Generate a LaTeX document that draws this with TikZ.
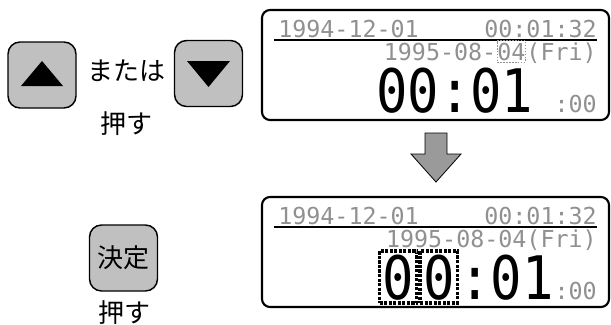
\documentclass[tikz,border=0pt]{standalone}
\usepackage{fontspec}
\usetikzlibrary{positioning,calc}
\newfontfamily\jpfont{Noto Sans CJK JP}
\newfontfamily\lcdfont{DejaVu Sans Mono}
\newfontfamily\lcdbig[FakeStretch=0.87]{DejaVu Sans Mono}
\definecolor{KeyGray}{HTML}{C0C0C0}
\definecolor{ArrowGray}{HTML}{9A9A9A}
\definecolor{LcdDim}{HTML}{909090}

\begin{document}
\begin{tikzpicture}[x=0.75pt, y=-0.75pt,
  btn/.style={draw=black, line width=1.1pt, fill=KeyGray, rounded corners=9pt,
    minimum width=51pt, minimum height=49.5pt, inner sep=0pt},
  jp/.style={font=\jpfont\fontsize{19.5}{21}\selectfont, inner sep=0pt},
  lcdframe/.style={draw=black, line width=1.6pt, rounded corners=6pt},
  dim/.style={font=\lcdfont\fontsize{17.5}{18}\selectfont, text=LcdDim, inner sep=0pt},
  big/.style={font=\lcdbig\fontsize{45}{45}\selectfont, inner sep=0pt},
  cursor/.style={draw=black, line width=2.4pt, densely dotted, inner xsep=2.2pt,
    text height=34pt, text depth=1pt, inner ysep=2pt}]
  \useasboundingbox (0,0) rectangle (611,325);

  % keys
  \node[btn] (upkey) at (42,75) {};
  \fill ($(upkey.center)+(0,-14)$) -- ($(upkey.center)+(21,11)$) -- ($(upkey.center)+(-21,11)$) -- cycle;
  \node[btn] (downkey) at (208.5,73.5) {};
  \fill ($(downkey.center)+(0,13.5)$) -- ($(downkey.center)+(21.5,-12.5)$) -- ($(downkey.center)+(-21.5,-12.5)$) -- cycle;
  \node[jp] (or) at (126,71) {または};
  \node[jp] (push1) at (126,124) {押す};
  \node[btn, font=\jpfont\fontsize{19.5}{21}\selectfont] (enter) at (123.5,258) {決定};
  \node[jp] (push2) at (124,313) {押す};

  % display before
  \draw[lcdframe] (262,10) rectangle (609,120);
  \node[dim, anchor=base west] (date1) at (278,37) {1994-12-01};
  \node[dim, anchor=base east] (clock1) at (597,37) {00:01:32};
  \draw[line width=1.5pt] (274,40) -- (597,40);
  \node[dim, anchor=base east] (wday1) at (597,60) {(Fri)};
  \node[dim, anchor=base east, draw=LcdDim, densely dotted, line width=1.2pt, inner ysep=1.5pt] (day1) at (wday1.base west) {04};
  \node[dim, anchor=base east] (ym1) at (day1.base west) {1995-08-};
  \node[big, anchor=base west] (hm1) at (376,112) {00:01};
  \node[dim, anchor=base east] (sec1) at (597,112) {:00};

  % arrow
  \filldraw[fill=ArrowGray, draw=black, line width=0.6pt] (425,133) -- (447,133) -- (447,154)
    -- (461,154) -- (436,182) -- (411,154) -- (425,154) -- cycle;

  % display after
  \draw[lcdframe] (262,197) rectangle (609,307);
  \node[dim, anchor=base west] (date2) at (278,224) {1994-12-01};
  \node[dim, anchor=base east] (clock2) at (597,224) {00:01:32};
  \draw[line width=1.5pt] (274,227) -- (597,227);
  \node[dim, anchor=base east] (ymd2) at (597,247) {1995-08-04(Fri)};
  \node[big, cursor, anchor=base west] (hh2a) at (378,299) {0};
  \node[big, cursor, anchor=base west] (hh2b) at (hh2a.base east) {0};
  \node[big, anchor=base west] (mm2) at (hh2b.base east) {:01};
  \node[dim, anchor=base east] (sec2) at (597,299) {:00};
\end{tikzpicture}
\end{document}
